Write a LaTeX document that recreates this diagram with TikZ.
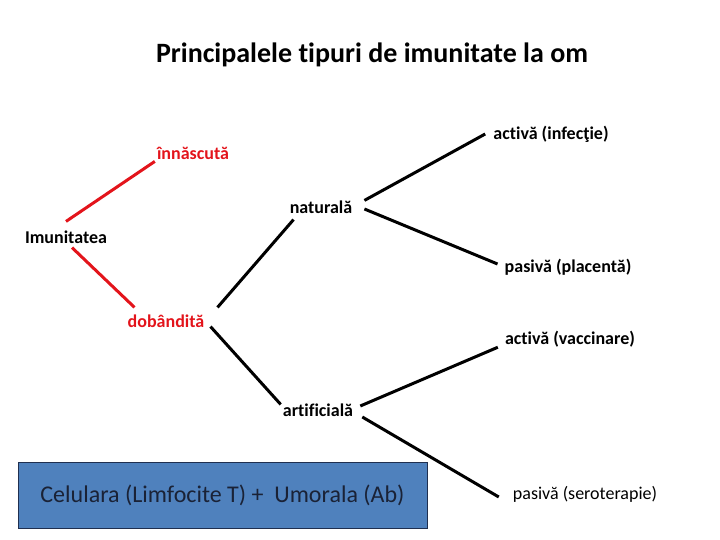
\documentclass[tikz,border=0pt]{standalone}
\usepackage{fontspec}
\setmainfont{Carlito}[Ligatures=NoCommon]
\definecolor{innatered}{HTML}{E3141B}
\definecolor{boxblue}{HTML}{4F81BD}
\definecolor{boxedge}{HTML}{1F2F4F}
\definecolor{boxtext}{HTML}{1A2236}
\usetikzlibrary{positioning}

\begin{document}
\begin{tikzpicture}[
    x=1pt, y=1pt,
    lbl/.style={inner sep=2pt, font=\fontsize{18}{20}\selectfont\bfseries},
    redlbl/.style={lbl, text=innatered},
    redline/.style={draw=innatered, line width=3pt},
    blkline/.style={draw=black, line width=3pt}
  ]
    \useasboundingbox (0,0) rectangle (720,540);

    \node[font=\fontsize{28}{32}\selectfont\bfseries] (title) at (372,485)
      {Principalele tipuri de imunitate la om};

    % left part
    \node[lbl] (imun) at (66,303) {Imunitatea};
    \node[redlbl] (innasc) at (193,387) {înnăscută};
    \node[redlbl] (dob) at (166,219) {dobândită};

    % middle
    \node[lbl] (nat) at (321,333) {naturală};
    \node[lbl] (artif) at (318,130) {artificială};

    % right
    \node[lbl] (actinf) at (551,406) {activă (infecţie)};
    \node[lbl] (pasplac) at (568,273) {pasivă (placentă)};
    \node[lbl] (actvac) at (570,201) {activă (vaccinare)};
    \node[inner sep=2pt, font=\fontsize{18}{20}\selectfont] (passero) at (585,46)
      {pasivă (seroterapie)};

    \node[draw=boxedge, fill=boxblue, minimum width=409, minimum height=66,
          text=boxtext, font=\fontsize{24}{28}\selectfont] (cell) at (222.5,45)
      {Celulara (Limfocite T) +\ \ Umorala (Ab)};

    \draw[redline] ([yshift=7pt]imun.north) -- (innasc.south west);
    \draw[redline] ([shift={(6pt,-2pt)}]imun.south) -- ([shift={(9pt,5pt)}]dob.north west);

    \draw[blkline] ([shift={(11pt,5pt)}]dob.north east) -- ([shift={(6pt,-4pt)}]nat.south west);
    \draw[blkline] ([shift={(4pt,3pt)}]dob.south east) -- ([yshift=-3pt]artif.north west);
    \draw[blkline] ([shift={(10pt,-2pt)}]nat.north east) -- ([xshift=-6pt]actinf.west);
    \draw[blkline] ([shift={(10pt,-2pt)}]nat.east) -- ([shift={(-5pt,3pt)}]pasplac.west);
    \draw[blkline] ([shift={(5pt,4pt)}]artif.east) -- ([shift={(-5pt,2pt)}]actvac.south west);
    \draw[blkline] ([shift={(7pt,-7pt)}]artif.east) -- ([shift={(-12pt,-3pt)}]passero.west);
  \end{tikzpicture}
\end{document}
